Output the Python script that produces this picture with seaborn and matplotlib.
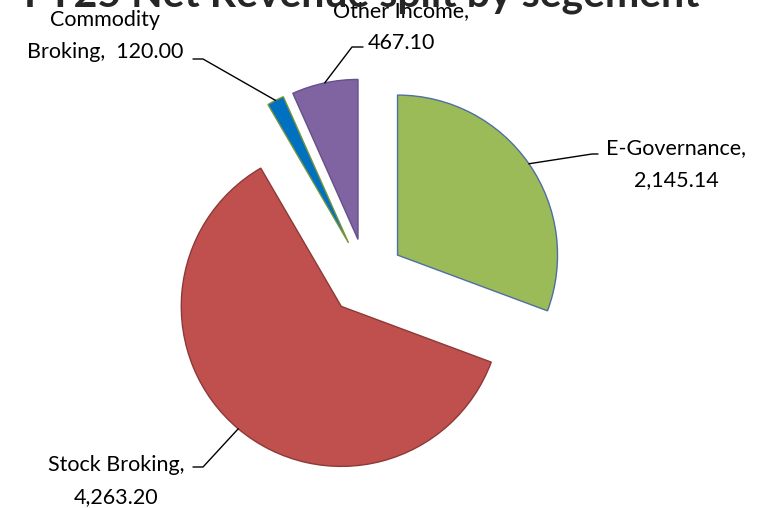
import numpy as np
import matplotlib
matplotlib.use("Agg")
import matplotlib.pyplot as plt
import seaborn as sns

# Dane
segments = ["E-Governance", "Stock Broking", "Commodity\nBroking", "Other Income"]
revenue = [2145.14, 4263.20, 120.00, 467.10]
colors = ["#9BBB59", "#C0504D", "#0070C0", "#8064A2"]
edges = ["#4F6FA0", "#8C3A38", "#77933C", "#64508A"]

sns.set_style("white")
plt.rcParams["font.family"] = ["Lato", "DejaVu Sans"]

W, H = 768, 508
R = 160.0          # promień koła w pikselach
CX, CY = 366, 277  # środek koła (piksele od lewej/góry)

fig = plt.figure(figsize=(W / 100, H / 100), dpi=100)
ax = fig.add_axes([0, 0, 1, 1])

wedges, _ = ax.pie(revenue, colors=colors, startangle=90, counterclock=False,
                   explode=[0.24] * 4, radius=1,
                   wedgeprops=dict(linewidth=1.0))
for w, ec in zip(wedges, edges):
    w.set_edgecolor(ec)

ax.set_xlim(-CX / R, (W - CX) / R)
ax.set_ylim(-(H - CY) / R, CY / R)
ax.set_aspect("equal")
ax.axis("off")


def px(x, y):
    return (x - CX) / R, (CY - y) / R


# Etykiety: (pozycja tekstu w px, załamanie linii, koniec linii)
label_pos = [
    ((676, 164), (592, 154), (598, 154)),
    ((116, 481), (203, 467), (193, 467)),
    ((105, 36), (203, 59), (193, 59)),
    ((401, 27), (352, 47), (363, 47)),
]

for w, name, val, (tp, elbow, end) in zip(wedges, segments, revenue, label_pos):
    mid = np.deg2rad((w.theta1 + w.theta2) / 2)
    cx, cy = w.center
    ax_, ay_ = cx + w.r * np.cos(mid), cy + w.r * np.sin(mid)
    ex, ey = px(*elbow)
    nx, ny = px(*end)
    ax.plot([ax_, ex, nx], [ay_, ey, ny], color="black", lw=1.0)
    if "\n" in name:
        txt = f"{name},  {val:,.2f}"
    else:
        txt = f"{name},\n{val:,.2f}"
    tx, ty = px(*tp)
    ax.text(tx, ty, txt, ha="center", va="center", fontsize=15.5,
            linespacing=1.72, color="black")

fig.text(362 / W, 1 - 7 / H, "FY25 Net Revenue split by segement",
         ha="center", va="baseline", fontsize=29.5, fontweight="bold",
         zorder=0)

fig.savefig("out.png", dpi=100)
